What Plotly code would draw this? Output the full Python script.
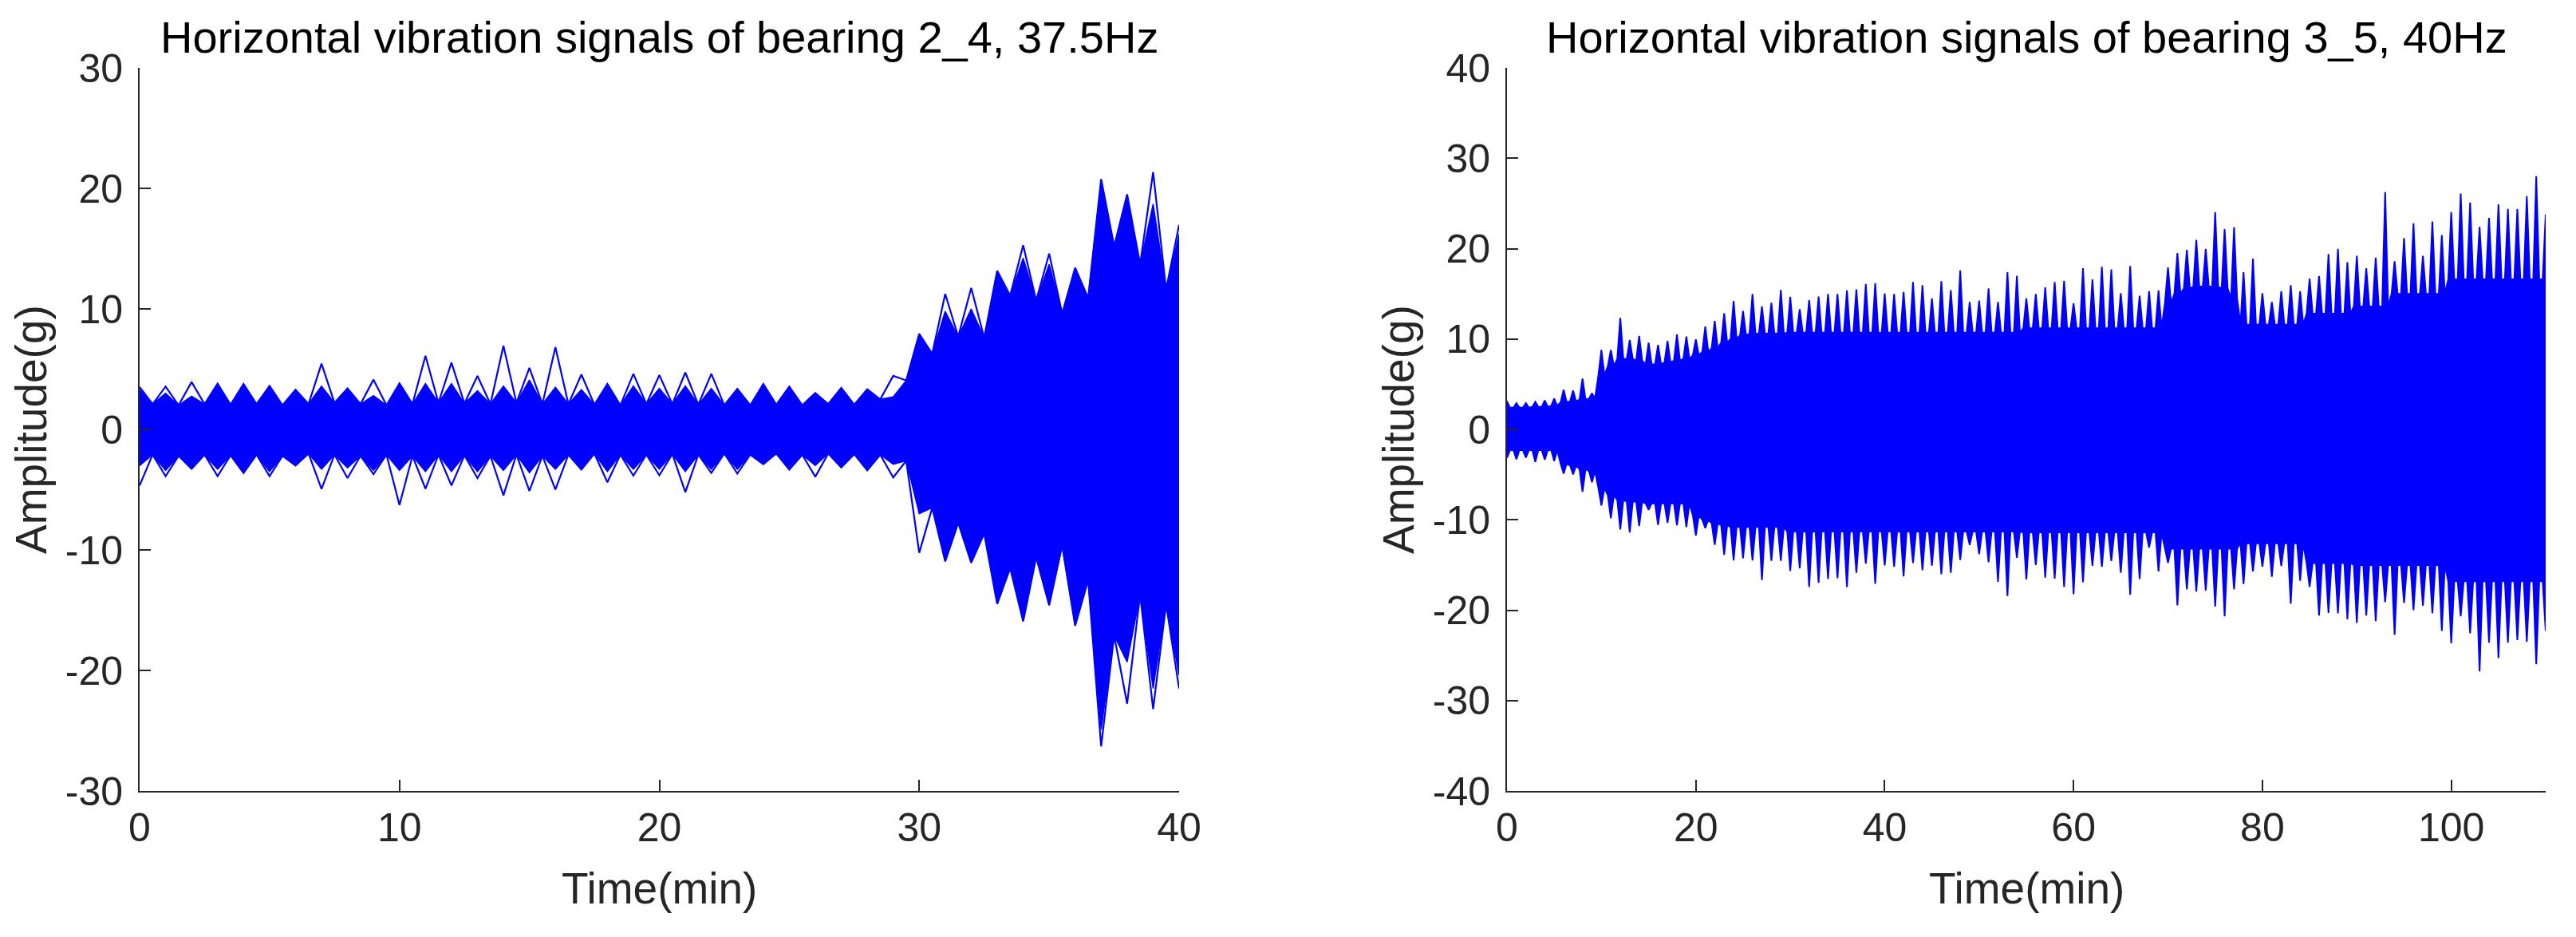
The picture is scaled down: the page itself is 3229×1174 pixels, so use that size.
import plotly.graph_objects as go

# ---------------- data: left chart (bearing 2_4, 37.5 Hz) ----------------
left_t = list(range(41))  # minutes
left_upper_outer = [3.51, 3.55, 3.93, 3.8, 3.77, 3.62, 3.29, 5.45, 3.4, 4.13,
                    3.82, 6.11, 5.54, 4.44, 6.93, 5.1, 6.82, 4.55, 3.77, 4.61,
                    4.5, 4.72, 4.61, 3.36, 3.77, 3.55, 3.02, 3.44, 3.33, 4.44,
                    7.93, 11.24, 11.74, 13.16, 15.28, 14.59, 13.4, 20.77, 19.5, 21.35, 16.97]
left_upper_fill = [3.3, 3.0, 2.75, 3.75, 3.7, 3.5, 3.3, 3.6, 3.4, 2.8,
                   3.8, 3.8, 3.8, 3.2, 3.6, 4.1, 3.5, 3.3, 3.77, 3.6,
                   3.4, 3.6, 3.4, 3.36, 3.77, 3.55, 3.02, 3.44, 3.33, 2.7,
                   7.93, 9.8, 10.0, 13.16, 14.2, 13.7, 13.4, 20.6, 19.1, 18.7, 16.2]
left_upper_valley = [2.1, 2.0, 2.1, 2.05, 2.1, 2.0, 2.1, 2.2, 2.1, 2.0,
                     2.1, 2.2, 2.15, 2.1, 2.2, 2.1, 2.1, 2.05, 2.0, 2.1,
                     2.1, 2.05, 2.0, 2.0, 2.05, 2.0, 2.1, 2.05, 2.5, 4.06,
                     6.27, 7.7, 7.6, 11.1, 10.7, 9.6, 10.9, 15.2, 13.7, 11.6]
left_lower_outer = [-4.66, -3.88, -3.27, -3.88, -3.62, -3.88, -3.0, -4.94, -4.04, -3.71,
                    -6.27, -4.92, -4.66, -4.04, -5.47, -5.1, -4.99, -3.33, -4.39, -3.84,
                    -3.81, -5.21, -3.62, -3.66, -2.89, -3.33, -3.93, -3.16, -3.4, -3.99,
                    -10.24, -10.95, -11.06, -14.48, -15.92, -14.59, -16.29, -26.3, -22.76, -23.2, -21.5]
left_lower_fill = [-3.0, -3.4, -3.27, -3.3, -3.62, -3.5, -3.0, -3.3, -3.2, -3.4,
                   -3.4, -3.5, -3.5, -3.5, -3.4, -3.6, -3.3, -3.33, -3.5, -3.3,
                   -3.3, -3.5, -3.3, -3.3, -2.89, -3.33, -3.0, -3.16, -3.4, -2.9,
                   -7.0, -10.95, -11.06, -14.48, -15.92, -14.59, -16.29, -24.9, -19.3, -21.5, -20.4]
left_lower_valley = [-2.1, -2.2, -2.1, -2.15, -2.1, -2.2, -2.0, -2.1, -2.2, -2.1,
                     -2.2, -2.1, -2.15, -2.2, -2.1, -2.2, -2.1, -2.0, -2.1, -2.1,
                     -2.05, -2.1, -2.0, -2.1, -2.0, -2.1, -2.0, -2.05, -2.1, -2.6,
                     -6.5, -7.75, -8.63, -11.5, -10.6, -9.62, -12.5, -17.1, -13.7, -14.5]

# ---------------- data: right chart (bearing 3_5, 40 Hz) ----------------
right_t = list(range(111))  # minutes
right_upper_peak = [3.12, 2.9, 2.9, 3.05, 3.2, 3.42, 4.39, 4.3, 5.62, 4.0,
                    8.8, 8.8, 12.34, 9.9, 10.34, 9.6, 9.35, 9.8, 10.5, 10.27,
                    9.97, 11.37, 12.0, 12.84, 14.2, 13.1, 14.99, 13.6, 14.0, 15.43,
                    14.67, 13.3, 14.3, 14.7, 14.99, 14.99, 15.37, 15.5, 16.08, 16.17,
                    15.05, 14.99, 15.2, 16.3, 15.96, 14.5, 16.4, 15.4, 17.58, 14.1,
                    14.26, 15.6, 14.1, 17.4, 17.0, 14.5, 14.99, 15.72, 16.3, 16.45,
                    13.95, 17.84, 16.6, 17.98, 17.69, 15.07, 18.08, 14.78, 15.28, 15.37,
                    17.92, 19.5, 19.85, 20.96, 19.97, 24.03, 22.15, 22.35, 17.4, 18.9,
                    15.07, 14.1, 15.28, 15.96, 15.28, 16.67, 16.96, 19.4, 19.97, 18.5,
                    19.2, 17.84, 19.0, 26.24, 18.6, 21.17, 22.8, 19.2, 23.0, 21.5,
                    24.03, 26.1, 25.1, 22.4, 23.4, 24.9, 24.4, 24.4, 25.8, 28.0, 23.8]
right_upper_floor = [2.4, 2.4, 2.4, 2.5, 2.5, 2.6, 3.0, 3.1, 3.3, 3.4,
                     6.0, 7.0, 7.8, 7.8, 7.6, 7.2, 7.2, 7.4, 7.6, 7.8,
                     8.2, 8.6, 9.0, 9.6, 10.0, 10.4, 10.6, 10.6, 10.6, 10.6,
                     10.7, 10.7, 10.7, 10.7, 10.7, 10.7, 10.7, 10.7, 10.7, 10.7,
                     10.7, 10.7, 10.7, 10.7, 10.7, 10.7, 10.7, 10.7, 10.7, 10.7,
                     10.7, 10.7, 10.7, 10.7, 10.7, 11.2, 11.2, 11.2, 11.2, 11.2,
                     11.2, 11.2, 11.2, 11.2, 11.2, 11.2, 11.2, 11.2, 11.2, 11.2,
                     14.0, 15.0, 15.6, 15.8, 15.8, 15.8, 15.6, 14.5, 11.6, 11.6,
                     11.6, 11.6, 11.6, 11.6, 11.6, 12.8, 12.8, 12.8, 12.8, 12.8,
                     13.6, 13.6, 13.6, 13.6, 15.0, 15.0, 15.0, 15.0, 15.0, 15.0,
                     16.6, 16.6, 16.6, 16.6, 16.6, 16.6, 16.6, 16.6, 16.6, 16.6, 16.6]
right_lower_peak = [-3.12, -3.3, -3.12, -3.6, -3.36, -3.5, -4.89, -4.98, -6.89, -5.86,
                    -8.42, -9.83, -11.07, -11.4, -10.7, -8.9, -10.57, -10.33, -10.6, -10.8,
                    -11.75, -10.93, -12.78, -13.87, -14.49, -14.25, -14.49, -16.67, -14.55, -14.55,
                    -15.67, -15.37, -17.43, -16.96, -16.55, -16.46, -17.43, -15.87, -14.84, -17.08,
                    -15.05, -15.2, -16.26, -14.78, -15.58, -15.08, -16.02, -15.87, -14.46, -12.78,
                    -13.81, -14.7, -16.85, -18.43, -14.2, -16.6, -15.0, -16.4, -16.5, -17.43,
                    -18.23, -16.9, -15.1, -15.2, -14.55, -15.87, -18.3, -16.55, -13.07, -15.7,
                    -14.78, -19.46, -17.7, -17.93, -17.84, -19.6, -20.67, -17.7, -17.1, -15.7,
                    -15.2, -16.3, -15.1, -19.3, -16.75, -17.43, -20.6, -20.3, -20.35, -21.0,
                    -21.4, -20.6, -21.2, -19.1, -22.73, -19.2, -20.0, -19.5, -20.35, -22.3,
                    -23.67, -20.67, -22.56, -26.77, -23.6, -25.3, -23.6, -23.3, -23.5, -25.97, -22.3]
right_lower_floor = [-2.3, -2.3, -2.3, -2.3, -2.3, -2.3, -3.8, -4.0, -4.4, -4.6,
                     -6.5, -7.3, -7.8, -8.0, -8.0, -8.2, -8.2, -8.2, -8.2, -8.2,
                     -9.5, -10.0, -10.4, -10.6, -10.8, -10.8, -10.8, -10.8, -10.8, -10.8,
                     -11.3, -11.3, -11.3, -11.3, -11.3, -11.3, -11.3, -11.3, -11.3, -11.3,
                     -11.3, -11.3, -11.3, -11.3, -11.3, -11.3, -11.3, -11.3, -11.3, -11.3,
                     -11.3, -11.3, -11.3, -11.3, -11.3, -11.4, -11.4, -11.4, -11.4, -11.4,
                     -11.4, -11.4, -11.4, -11.4, -11.4, -11.4, -11.4, -11.4, -11.4, -11.4,
                     -13.2, -13.2, -13.2, -13.2, -13.2, -13.2, -13.2, -13.2, -12.6, -12.6,
                     -12.6, -12.6, -12.6, -12.6, -12.6, -14.8, -14.8, -14.8, -14.8, -14.8,
                     -15.0, -15.0, -15.0, -15.0, -15.0, -15.0, -15.0, -15.0, -15.0, -15.0,
                     -16.8, -16.8, -16.8, -16.8, -16.8, -16.8, -16.8, -16.8, -16.8, -16.8, -16.8]

# ---------------- axes / text ----------------
left_title = "Horizontal vibration signals of bearing 2_4, 37.5Hz"
right_title = "Horizontal vibration signals of bearing 3_5, 40Hz"
x_label = "Time(min)"
y_label = "Amplitude(g)"
left_xticks = [0, 10, 20, 30, 40]
left_yticks = [-30, -20, -10, 0, 10, 20, 30]
right_xticks = [0, 20, 40, 60, 80, 100]
right_yticks = [-40, -30, -20, -10, 0, 10, 20, 30, 40]

# ---------------- style ----------------
W, H = 3229, 1174
BLUE = "#0000FF"
AXC = "#262626"
FONT = "Liberation Sans, Arial, Helvetica, sans-serif"
TICK_SIZE = 50
LABEL_SIZE = 55
HALF = 0.5   # left chart: half spacing between recordings
RW = 0.32    # right chart: half width of each burst

PLOT_TOP, PLOT_BOT = 85, 991
L_X0, L_X1 = 175, 1478
R_X0, R_X1 = 1889, 3191


def fx(px):
    return px / W


def fy(py):
    return 1 - py / H


fig = go.Figure()

# left: solid core
xs, ys = [], []
n = len(left_t)
for i in range(n):
    xs.append(left_t[i]); ys.append(left_upper_fill[i])
    if i < n - 1:
        xs.append(left_t[i] + HALF); ys.append(left_upper_valley[i])
for i in range(n - 1, -1, -1):
    xs.append(left_t[i]); ys.append(left_lower_fill[i])
    if i > 0:
        xs.append(left_t[i - 1] + HALF); ys.append(left_lower_valley[i - 1])
fig.add_trace(go.Scatter(x=xs, y=ys, mode="lines", fill="toself", fillcolor=BLUE,
                         line=dict(color=BLUE, width=1.5), hoverinfo="skip",
                         xaxis="x", yaxis="y", showlegend=False))

# left: outer traces (upper and lower)
for outer, valley in ((left_upper_outer, left_upper_valley),
                      (left_lower_outer, left_lower_valley)):
    xs, ys = [], []
    for i in range(n):
        xs.append(left_t[i]); ys.append(outer[i])
        if i < n - 1:
            xs.append(left_t[i] + HALF); ys.append(valley[i])
    fig.add_trace(go.Scatter(x=xs, y=ys, mode="lines",
                             line=dict(color=BLUE, width=2.2), hoverinfo="skip",
                             xaxis="x", yaxis="y", showlegend=False))

# right: bursts
xs, ys = [], []
for i, t in enumerate(right_t):
    xs += [t - RW, t, t + RW]
    ys += [right_upper_floor[i], right_upper_peak[i], right_upper_floor[i]]
for i in range(len(right_t) - 1, -1, -1):
    t = right_t[i]
    xs += [t + RW, t, t - RW]
    ys += [right_lower_floor[i], right_lower_peak[i], right_lower_floor[i]]
fig.add_trace(go.Scatter(x=xs, y=ys, mode="lines", fill="toself", fillcolor=BLUE,
                         line=dict(color=BLUE, width=2), hoverinfo="skip",
                         xaxis="x2", yaxis="y2", showlegend=False))


def axis(domain, rng, ticks, anchor, standoff):
    return dict(domain=domain, range=rng, anchor=anchor, automargin=False,
                tickvals=ticks, ticktext=[str(v) for v in ticks],
                showline=True, linecolor=AXC, linewidth=2, mirror=False,
                ticks="inside", ticklen=14, tickwidth=2, tickcolor=AXC,
                showgrid=False, zeroline=False, ticklabelstandoff=standoff,
                tickfont=dict(family=FONT, size=TICK_SIZE, color=AXC))


fig.update_layout(
    width=W, height=H, paper_bgcolor="white", plot_bgcolor="white",
    margin=dict(l=0, r=0, t=0, b=0, pad=0, autoexpand=False), showlegend=False,
    xaxis=axis([fx(L_X0), fx(L_X1)], [0, 40], left_xticks, "y", 1),
    yaxis=axis([fy(PLOT_BOT), fy(PLOT_TOP)], [-30, 30], left_yticks, "x", 9),
    xaxis2=axis([fx(R_X0), fx(R_X1)], [0, 110], right_xticks, "y2", 1),
    yaxis2=axis([fy(PLOT_BOT), fy(PLOT_TOP)], [-40, 40], right_yticks, "x2", 9),
)

ann = []
for cx, title in (((L_X0 + L_X1) / 2, left_title), ((R_X0 + R_X1) / 2, right_title)):
    ann.append(dict(x=fx(cx), y=fy(47), xref="paper", yref="paper", text=title,
                    showarrow=False, xanchor="center", yanchor="middle",
                    font=dict(family=FONT, size=LABEL_SIZE + 1, color="black")))
    ann.append(dict(x=fx(cx), y=fy(1113), xref="paper", yref="paper", text=x_label,
                    showarrow=False, xanchor="center", yanchor="middle",
                    font=dict(family=FONT, size=LABEL_SIZE, color=AXC)))
for ax_x in (L_X0, R_X0):
    ann.append(dict(x=fx(ax_x - 136), y=fy((PLOT_TOP + PLOT_BOT) / 2), xref="paper", yref="paper",
                    text=y_label, textangle=-90, showarrow=False,
                    xanchor="center", yanchor="middle",
                    font=dict(family=FONT, size=LABEL_SIZE, color=AXC)))
fig.update_layout(annotations=ann)

fig.write_html("out.html", config={"displayModeBar": False},
               post_script="document.body.style.margin='0';document.body.style.overflow='hidden';")
